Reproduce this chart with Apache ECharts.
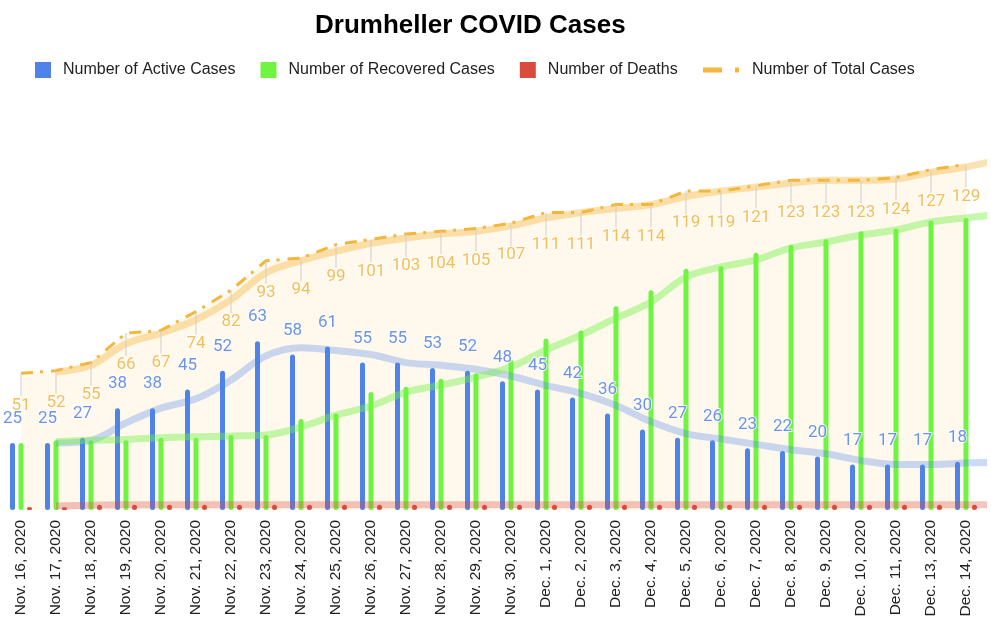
<!DOCTYPE html>
<html><head><meta charset="utf-8">
<script src="https://cdn.jsdelivr.net/npm/echarts@6/dist/echarts.min.js"></script>
<style>html,body{margin:0;padding:0;background:#fff}#chart{width:991px;height:628px}</style>
</head><body><div id="chart"></div>
<script>
const categories = ['Nov. 16, 2020','Nov. 17, 2020','Nov. 18, 2020','Nov. 19, 2020','Nov. 20, 2020','Nov. 21, 2020','Nov. 22, 2020','Nov. 23, 2020','Nov. 24, 2020','Nov. 25, 2020','Nov. 26, 2020','Nov. 27, 2020','Nov. 28, 2020','Nov. 29, 2020','Nov. 30, 2020','Dec. 1, 2020','Dec. 2, 2020','Dec. 3, 2020','Dec. 4, 2020','Dec. 5, 2020','Dec. 6, 2020','Dec. 7, 2020','Dec. 8, 2020','Dec. 9, 2020','Dec. 10, 2020','Dec. 11, 2020','Dec. 13, 2020','Dec. 14, 2020'];
const activeCases    = [25,25,27,38,38,45,52,63,58,61,55,55,53,52,48,45,42,36,30,27,26,23,22,20,17,17,17,18];
const recoveredCases = [25,26,26,26,27,27,28,28,34,36,44,46,49,51,56,64,67,76,82,90,91,96,99,101,104,105,108,109];
const deaths         = [1,1,2,2,2,2,2,2,2,2,2,2,2,2,2,2,2,2,2,2,2,2,2,2,2,2,2,2];
const totalCases     = [51,52,55,66,67,74,82,93,94,99,101,103,104,105,107,111,111,114,114,119,119,121,123,123,123,124,127,129];

// trend lines: positions are category indexes (Nov. 17 = 1), last one runs to the right edge
const trendX         = [1,2,3,4,5,6,7,8,9,10,11,12,13,14,15,16,17,18,19,20,21,22,23,24,25,26,27,27.71];
const activeTrend    = [25,26,32.5,38,41.5,48.5,57.5,60.5,59.5,58,55,54,52.5,50,46.5,43.5,39,33,28.5,26.5,24.5,22.5,21,18.5,17,17,17.5,17.8];
const recoveredTrend = [25.5,26,26.3,27,27.3,27.6,28,31,35.4,38.8,44,46.6,49.6,53.4,59.7,65.3,71.6,77.6,86.9,90.7,93.3,97.8,100,102.6,104.5,107.5,109,110];
const deathsTrend    = [1.5,1.8,2,2,2,2,2,2,2,2,2,2,2,2,2,2,2,2,2,2,2,2,2,2,2,2,2,2];
const totalTrend     = [51.5,54,62,66,71,78.5,88.5,93,96.5,99.5,101.5,103,104,106,109,111,112.5,114,117,119,120.5,122,123,123,123.5,126,128,130];

const C_ACTIVE = '#4f83ea', C_REC = '#70f442', C_DEATH = '#db4b3c', C_TOTAL = '#f4b63c';
const pair = (xs, ys) => xs.map((x, i) => [x, ys[i]]);

const chart = echarts.init(document.getElementById('chart'), null, {renderer: 'canvas'});
const labelFont = {fontFamily: 'Roboto', fontSize: 17, textBorderColor: '#fff', textBorderWidth: 2};
const trendLine = (name, data, color) => ({
  name, type: 'line', xAxisIndex: 1, yAxisIndex: 0, data, smooth: 0.35,
  showSymbol: false, symbol: 'none', clip: false, silent: true, z: 3,
  lineStyle: {width: 7, color, cap: 'butt'}
});

chart.setOption({
  animation: false,
  backgroundColor: '#fff',
  title: {
    text: 'Drumheller COVID Cases', left: 310, top: 8,
    textStyle: {fontFamily: 'Liberation Sans', fontWeight: 'bold', fontSize: 26, color: '#000'}
  },
  legend: [{
    data: ['Number of Active Cases', 'Number of Recovered Cases', 'Number of Deaths'],
    left: 30, top: 57, itemWidth: 16, itemHeight: 16, itemGap: 25, icon: 'rect',
    textStyle: {fontFamily: 'Liberation Sans', fontSize: 16, color: '#222', padding: [0, 0, 0, 7]}
  }, {
    data: [{name: 'Number of Total Cases', icon: 'path://M0,0H19V5H0Z M32,0H36V5H32Z'}],
    left: 698, top: 57, itemWidth: 36, itemHeight: 5,
    itemStyle: {color: C_TOTAL, borderWidth: 0},
    textStyle: {fontFamily: 'Liberation Sans', fontSize: 16, color: '#222', padding: [0, 0, 0, 8]}
  }],
  grid: {left: 3.5, right: 7.5, top: 134.8, bottom: 118, containLabel: false},
  xAxis: [{
    type: 'category', data: categories, boundaryGap: true,
    axisLine: {show: false}, axisTick: {show: false},
    axisLabel: {rotate: 90, margin: 10, interval: 0, fontFamily: 'Liberation Sans', fontSize: 15.5, color: '#222'}
  }, {
    type: 'value', min: -0.5, max: 27.5, show: false
  }],
  yAxis: {type: 'value', min: 0, max: 140, show: false, splitLine: {show: false}},
  series: [
    {
      name: 'Number of Total Cases', type: 'line', data: totalCases, symbol: 'none', z: 1,
      lineStyle: {width: 3, color: C_TOTAL, type: [12, 7, 3, 8]},
      itemStyle: {color: C_TOTAL},
      areaStyle: {color: 'rgba(244,182,60,0.13)', origin: 'start'}
    },
    {
      name: 'Number of Active Cases', type: 'bar', data: activeCases, barWidth: 5, barGap: '70%', z: 2,
      itemStyle: {color: C_ACTIVE, borderRadius: 2.5}
    },
    {
      name: 'Number of Recovered Cases', type: 'bar', data: recoveredCases, barWidth: 5, z: 2,
      itemStyle: {color: C_REC, borderRadius: 2.5}
    },
    {
      name: 'Number of Deaths', type: 'bar', data: deaths, barWidth: 5, z: 2,
      itemStyle: {color: C_DEATH, borderRadius: 2.5}
    },
    trendLine('activeTrend', pair(trendX, activeTrend), 'rgba(79,131,234,0.3)'),
    trendLine('recoveredTrend', pair(trendX, recoveredTrend), 'rgba(112,244,66,0.42)'),
    trendLine('deathsTrend', pair(trendX, deathsTrend), 'rgba(219,75,60,0.32)'),
    trendLine('totalTrend', pair(trendX, totalTrend), 'rgba(244,182,60,0.4)'),
    {
      name: 'totalStems', type: 'custom', silent: true, z: 4,
      data: totalCases.map((v, i) => [i, v]),
      renderItem: (params, api) => {
        const p = api.coord([api.value(0), api.value(1)]);
        return {type: 'line', shape: {x1: p[0], y1: p[1], x2: p[0], y2: p[1] + 23},
                style: {stroke: '#cfcfcf', lineWidth: 1}};
      }
    },
    {
      name: 'activeLabels', type: 'scatter', silent: true, z: 10,
      data: activeCases, symbol: 'circle', symbolSize: 1, itemStyle: {color: 'rgba(0,0,0,0)'},
      label: Object.assign({show: true, position: 'top', distance: 15, offset: [-8.5, 0], color: '#4579e4'}, labelFont)
    },
    {
      name: 'totalLabels', type: 'scatter', silent: true, z: 10,
      data: totalCases, symbol: 'circle', symbolSize: 1, itemStyle: {color: 'rgba(0,0,0,0)'},
      label: Object.assign({show: true, position: 'bottom', distance: 23, color: '#efae2c'}, labelFont)
    }
  ]
});
</script>
</body></html>
